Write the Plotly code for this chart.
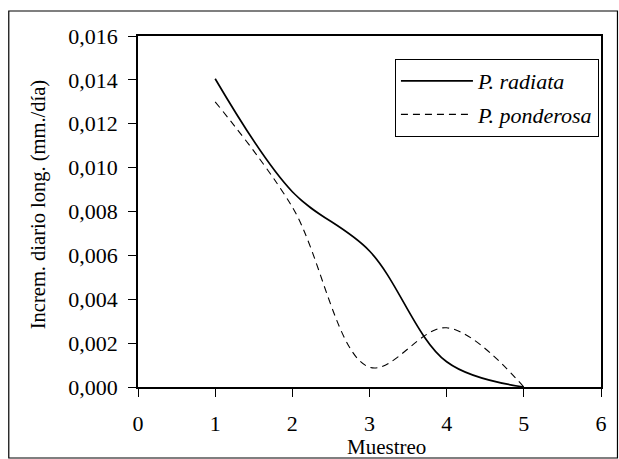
import plotly.graph_objects as go

# Sampling rounds and daily length increment (mm/day) for each species
muestreo = [1, 2, 3, 4, 5]
radiata = [0.01405, 0.0089, 0.0062, 0.00115, 0.0]
ponderosa = [0.0130, 0.0082, 0.0009, 0.0027, 0.0]

x_ticks = [0, 1, 2, 3, 4, 5, 6]
y_ticks = [0.000, 0.002, 0.004, 0.006, 0.008, 0.010, 0.012, 0.014, 0.016]

FONT = "Liberation Serif, Times New Roman, serif"
W, H = 619, 459
L, R, T, B = 137.5, 17.5, 36, 72

fig = go.Figure()
fig.add_trace(go.Scatter(
    x=muestreo, y=radiata, name="<i>P. radiata</i>", legendgroup="a",
    mode="lines", line=dict(color="black", width=1.7, shape="spline", smoothing=1),
))
fig.add_trace(go.Scatter(
    x=muestreo, y=ponderosa, name="<i>P. ponderosa</i>", legendgroup="b",
    mode="lines", line=dict(color="black", width=1.1, dash="7px,5px", shape="spline", smoothing=1),
))

pw, ph = W - L - R, H - T - B

def px_x(p):
    return (p - L) / pw

def px_y(p):
    return (H - B - p) / ph

axis_common = dict(
    showline=True, linecolor="black", linewidth=1.6, mirror=True,
    ticks="outside", ticklen=8, tickwidth=1.3, tickcolor="black",
    showgrid=False, zeroline=False,
    tickfont=dict(family=FONT, size=22, color="black"),
)

fig.update_xaxes(range=[0, 6], tickvals=x_ticks, ticklabelstandoff=8, **axis_common)
fig.update_yaxes(range=[0, 0.016], tickvals=y_ticks, tickformat=".3f",
                 ticklabelstandoff=6, **axis_common)

# Axis titles
fig.add_annotation(text="Muestreo", xref="paper", yref="paper",
                   x=px_x(386.5), y=px_y(447), showarrow=False,
                   font=dict(family=FONT, size=21, color="black"),
                   xanchor="center", yanchor="middle")
fig.add_annotation(text="Increm. diario long. (mm./día)", xref="paper", yref="paper",
                   x=px_x(37.5), y=px_y(205), showarrow=False, textangle=-90,
                   font=dict(family=FONT, size=20.5, color="black"),
                   xanchor="center", yanchor="middle")

# Outer chart frame
fig.add_shape(type="rect", xref="paper", yref="paper",
              x0=px_x(8), x1=px_x(618), y0=px_y(458), y1=px_y(11),
              line=dict(color="black", width=1.2), layer="below")

fig.update_layout(
    width=W, height=H,
    margin=dict(l=L, r=R, t=T, b=B),
    paper_bgcolor="white", plot_bgcolor="white",
    separators=",.",
    showlegend=True,
    legend=dict(
        x=px_x(395), y=px_y(59), xanchor="left", yanchor="top",
        bordercolor="black", borderwidth=1, bgcolor="white",
        font=dict(family=FONT, size=22, color="black"),
        itemwidth=72, tracegroupgap=2,
    ),
)

fig.write_html("out.html")
